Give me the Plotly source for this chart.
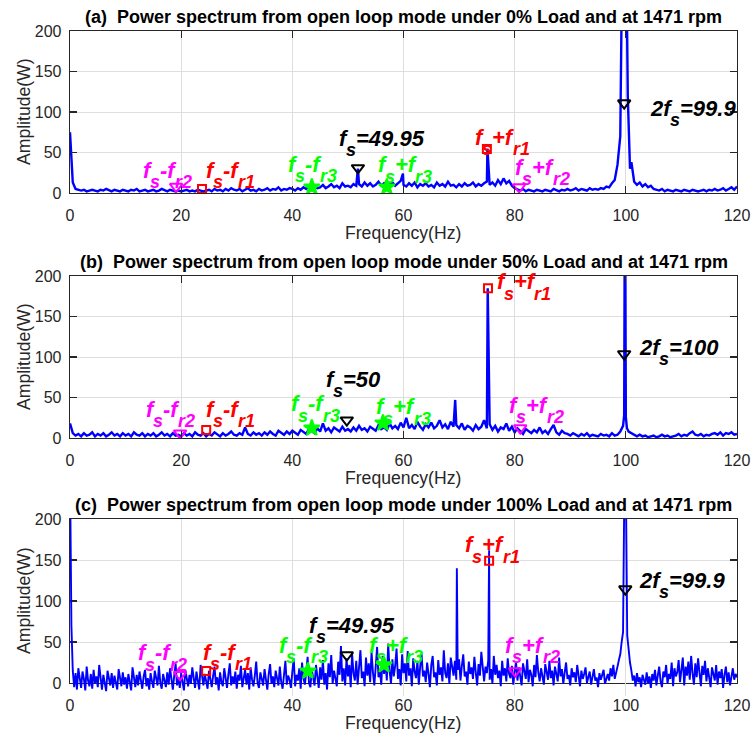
import numpy as np
import plotly.graph_objects as go

# ---------------- data ----------------
STEP_AB = 0.5    # Hz between samples, panels (a) and (b)
STEP_C = 0.25    # Hz between samples, panel (c)

amp_a = [
    75, 13, 5, 4, 3, 4, 2, 3, 4, 3,
    2, 4, 3, 5, 3, 2, 4, 3, 2, 4,
    3, 2, 4, 3, 5, 2, 3, 4, 2, 3,
    4, 2, 3, 5, 3, 2, 4, 3, 2, 3,
    2, 3, 4, 2, 3, 2, 4, 3, 2, 3,
    4, 2, 5, 3, 4, 2, 5, 3, 6, 4,
    3, 5, 2, 4, 6, 3, 4, 2, 5, 3,
    4, 6, 3, 5, 4, 7, 3, 5, 4, 6,
    5, 3, 6, 4, 7, 5, 8, 4, 9, 6,
    7, 10, 6, 8, 11, 7, 9, 6, 12, 8,
    9, 7, 11, 9, 11, 8, 13, 9, 12, 8,
    10, 14, 9, 12, 8, 11, 13, 9, 12, 15,
    10, 8, 12, 9, 13, 7, 11, 9, 12, 8,
    10, 7, 13, 9, 11, 8, 14, 9, 10, 7,
    11, 8, 12, 9, 10, 13, 8, 11, 9, 12,
    14, 10, 13, 9, 16, 11, 18, 12, 15, 9,
    6, 4, 3, 5, 2, 4, 3, 2, 4, 3,
    2, 4, 3, 2, 5, 3, 2, 4, 3, 5,
    3, 4, 6, 3, 5, 4, 3, 6, 4, 5,
    4, 6, 5, 8, 7, 12, 16, 35, 70, 250,
    250, 70, 38, 14, 10, 13, 8, 11, 7, 9,
    5, 4, 3, 5, 2, 4, 3, 2, 4, 3,
    2, 4, 3, 2, 4, 3, 2, 3, 4, 2,
    4, 3, 5, 3, 4, 6, 3, 5, 7, 4,
    8,
]
peak_f_a = [51.8, 59.9, 75.1, 99.2, 99.7, 99.85, 100.2, 100.35, 100.75, 101.2]
peak_v_a = [30, 24, 55, 200, 250, 250, 220, 120, 30, 25]

amp_b = [
    18, 6, 3, 5, 2, 6, 3, 4, 7, 2,
    5, 3, 6, 2, 4, 7, 3, 5, 2, 6,
    3, 5, 2, 7, 4, 3, 6, 2, 5, 3,
    6, 2, 4, 7, 3, 5, 2, 6, 3, 4,
    2, 6, 3, 5, 2, 7, 4, 3, 6, 2,
    5, 3, 7, 4, 2, 6, 3, 5, 8, 4,
    3, 6, 4, 13, 5, 3, 7, 4, 6, 3,
    7, 4, 8, 5, 3, 9, 6, 4, 8, 5,
    9, 6, 4, 10, 7, 5, 11, 8, 6, 12,
    8, 18, 9, 12, 7, 13, 10, 8, 14, 9,
    11, 8, 13, 9, 15, 10, 12, 8, 14, 11,
    9, 16, 11, 13, 10, 18, 12, 15, 11, 19,
    13, 25, 12, 16, 11, 20, 14, 10, 17, 13,
    19, 12, 15, 22, 13, 17, 11, 20, 14, 16,
    12, 18, 10, 15, 13, 9, 16, 11, 14, 22,
    12, 17, 10, 15, 8, 13, 11, 18, 9, 14,
    7, 12, 9, 5, 11, 8, 6, 10, 7, 13,
    6, 9, 5, 11, 16, 7, 4, 9, 6, 5,
    3, 6, 4, 2, 5, 3, 6, 2, 4, 3,
    2, 5, 3, 4, 2, 6, 3, 4, 8, 15,
    26, 8, 6, 3, 2, 4, 2, 3, 1, 2,
    3, 1, 2, 4, 2, 3, 1, 2, 3, 5,
    2, 4, 3, 6, 8, 4, 3, 5, 2, 4,
    3, 5, 6, 4, 7, 3, 6, 5, 7, 4,
    5,
]
peak_f_b = [69.3, 75.15, 99.7, 99.8, 99.9, 100.2]
peak_v_b = [47, 185, 28, 250, 250, 12]

amp_c = [
    260, 70, 15, -5, 12, -8, 18, 2, -6, 14, 5, -9, 20, 3, -4, 11, -7, 16, 0, 8,
    -5, 22, 4, -8, 10, 1, -10, 15, 6, -3, 12, -6, 9, 2, -8, 17, 5, -4, 13, -2,
    7, -7, 11, 3, -9, 19, 4, -5, 10, -3, 14, 1, -7, 8, 16, -4, 6, -8, 12, 2,
    -6, 15, 5, -3, 21, 0, -7, 11, 3, -5, 13, -2, 18, 4, -8, 9, 24, -3, 7, -6,
    12, 1, -9, 16, 5, -4, 10, -1, 19, 3, -6, 14, 0, -8, 22, 6, -3, 11, 2, -7,
    15, 4, -5, 9, 20, -2, 7, -9, 13, 1, -4, 18, 5, -6, 11, 24, -3, 8, -1, 14,
    -7, 10, 3, 21, -5, 7, 16, -2, 12, -8, 19, 4, -4, 9, 26, 0, -6, 13, 5, -3,
    17, 2, -8, 11, 23, -1, 8, -5, 15, 6, -3, 20, 1, -7, 12, 27, -2, 9, 4, -6,
    14, 30, -4, 10, 3, 18, -7, 25, 6, -2, 13, 32, 0, -5, 16, 8, -3, 22, 11, -6,
    19, 4, 28, -2, 12, -8, 24, 7, 34, -1, 15, 5, -4, 26, 10, 45, 2, 18, -3, 30,
    8, 22, -5, 36, 12, 3, 27, -2, 18, 40, 6, 14, -4, 31, 9, 24, 1, 38, 13, -3,
    20, 44, 7, 16, -2, 33, 11, 26, 3, 48, 15, -1, 29, 8, 21, 42, 5, 17, -3, 35,
    12, 24, 2, 39, 9, 18, -4, 30, 14, 6, 27, -2, 20, 36, 8, 15, 1, 25, 11, -5,
    22, 33, 7, 13, -3, 28, 10, 19, 2, 40, 12, 6, 24, -1, 31, 18, 9, 27, 4, 16,
    29, 3, 21, 35, 8, 14, -2, 26, 11, 19, 5, 32, 13, -3, 23, 9, 38, 15, 2, 20,
    12, 28, 4, 17, -1, 33, 10, 22, 6, 15, -4, 27, 9, 18, 2, 30, 11, 6, 21, -2,
    14, 25, 3, 19, 8, -3, 24, 12, 5, 29, 1, 16, 10, -4, 22, 7, 34, 13, 2, 18,
    9, -2, 23, 11, 4, 27, 6, 15, -3, 20, 12, 2, 31, 8, 17, -1, 13, 25, 5, 10,
    -3, 18, 7, 13, 1, 22, 9, -4, 15, 5, 11, 19, 0, 8, 14, -2, 10, 17, 3, 7,
    -5, 12, 4, 9, 16, -1, 6, 11, 3, 18, 8, 22, 5, 15, 20, 28, 35, 50, 62, 250,
    250, 58, 40, 25, 15, 3, 9, -4, 12, 1, 7, -5, 10, 4, -2, 13, 0, 8, -6, 11,
    3, 16, -3, 9, 20, 2, -5, 14, 7, 22, -1, 11, 5, 25, -4, 18, 8, 13, 28, 1,
    15, 31, -3, 20, 9, 26, 4, 33, 12, -2, 24, 7, 30, 16, -4, 21, 10, 27, 2, 18,
    8, -5, 19, 12, 3, 22, -2, 14, 6, 17, -6, 10, 20, 1, 13, -3, 9, 18, 4, 11,
    7,
]
peak_f_c = [69.6, 75.4]
peak_v_c = [140, 162]

# marked characteristic frequencies: (frequency, amplitude)
mark_kind = ["fs-fr2", "fs-fr1", "fs-fr3", "fs", "fs+fr3", "fs+fr1", "fs+fr2", "2fs"]
mark_f_a = [19.1, 23.75, 43.5, 51.8, 57.0, 75.0, 80.8, 99.7]
mark_v_a = [8, 5, 7.4, 31, 7.4, 54.3, 7.4, 111]
mark_f_b = [19.8, 24.5, 43.5, 49.8, 56.3, 75.2, 81.0, 99.7]
mark_v_b = [6, 9.9, 12.3, 22, 18.5, 185, 12.3, 103.7]
mark_f_c = [19.8, 24.5, 42.8, 49.8, 56.5, 75.4, 80.1, 99.9]
mark_v_c = [10, 14.6, 14.6, 34, 22, 149, 14.6, 114.6]

fs_text = ["49.95", "50", "49.95"]
twofs_text = ["99.9", "100", "99.9"]
titles = [
    "(a)  Power spectrum from open loop mode under 0% Load and at 1471 rpm",
    "(b)  Power spectrum from open loop mode under 50% Load and at 1471 rpm",
    "(c)  Power spectrum from open loop mode under 100% Load and at 1471 rpm",
]
x_ticks = [0, 20, 40, 60, 80, 100, 120]
y_ticks = [0, 50, 100, 150, 200]

# ---------------- layout constants ----------------
W, H = 752, 736
ML, MR = 70, 15
PW = W - ML - MR
FONT = "Liberation Sans, Arial, Helvetica, sans-serif"
AXC = "#262626"
# pixel rows of the panels (top = 200, bottom = 0)
panels_px = [(31, 193), (276, 438), (519, 683)]
YMIN_C = -16

def py2paper(py):
    return 1 - py / H

def px2paper(px):
    return (px - ML) / PW

# label text positions (left edge frequency, amplitude at text centre) per panel
label_pos = [
    [(12.95, 28.4), (24.3, 28.4), (39.0, 35.8), (48.2, 67.9), (55.2, 34.6), (72.7, 69.1), (79.9, 32.1), (104.2, 104.9)],
    [(13.5, 35.8), (24.3, 35.8), (39.6, 42.0), (45.9, 72.8), (54.9, 38.3), (76.6, 192.6), (78.8, 40.7), (102.2, 112.3)],
    [(12.05, 36.6), (23.75, 37.8), (37.4, 46.3), (42.8, 70.7), (53.6, 46.3), (70.9, 168.3), (78.1, 46.3), (102.2, 125.6)],
]

COL = {"m": "#FF00FF", "r": "#FF0000", "g": "#00FF00", "k": "#000000"}
kind_style = {
    "fs-fr2": ("triangle-down-open", "m"),
    "fs-fr1": ("square-open", "r"),
    "fs-fr3": ("star", "g"),
    "fs": ("triangle-down-open", "k"),
    "fs+fr3": ("star", "g"),
    "fs+fr1": ("square-open", "r"),
    "fs+fr2": ("triangle-down-open", "m"),
    "2fs": ("triangle-down-open", "k"),
}
marker_size = {"triangle-down-open": 11, "square-open": 8, "star": 12}

CW = {"f": 0.333, "s": 0.556, "r": 0.389, "-": 0.333, "+": 0.584, "=": 0.584, ".": 0.278}
def text_w(t, size):
    return sum(CW.get(c, 0.556) for c in t) * size

MAIN_FS, SUB_FS, SUB_DY = 22, 18, -12

def segments(kind, i):
    if kind == "fs":
        return [("f", 0), ("s", 1), ("=" + fs_text[i], 0)]
    if kind == "2fs":
        return [("2f", 0), ("s", 1), ("=" + twofs_text[i], 0)]
    sign = kind[2]
    return [("f", 0), ("s", 1), (sign + "f", 0), ("r" + kind[-1], 1)]

def merged(step, amps, pf, pv):
    f = [k * step for k in range(len(amps))]
    pts = sorted(zip(f + pf, amps + pv))
    return [p[0] for p in pts], [p[1] for p in pts]

fig = go.Figure()
annotations = []

# empty trace so that the frame of panel (c) (x3/y3) is created
fig.add_trace(go.Scatter(x=[None], y=[None], xaxis="x3", yaxis="y3", mode="lines",
                         showlegend=False, hoverinfo="skip"))

spectra = [
    merged(STEP_AB, amp_a, peak_f_a, peak_v_a),
    merged(STEP_AB, amp_b, peak_f_b, peak_v_b),
    merged(STEP_C, amp_c, peak_f_c, peak_v_c),
]
marks = [(mark_f_a, mark_v_a), (mark_f_b, mark_v_b), (mark_f_c, mark_v_c)]
axref = [("x", "y"), ("x2", "y2"), ("x3", "y4")]
lw = [2.4, 2.4, 1.9]

for i in range(3):
    xr, yr = axref[i]
    fx, fv = spectra[i]
    fig.add_trace(go.Scatter(x=fx, y=fv, mode="lines", xaxis=xr, yaxis=yr,
                             line=dict(color="#0000FF", width=lw[i]),
                             showlegend=False, hoverinfo="skip"))
    mf, mv = marks[i]
    for k, kind in enumerate(mark_kind):
        sym, c = kind_style[kind]
        col = COL[c]
        fig.add_trace(go.Scatter(
            x=[mf[k]], y=[mv[k]], mode="markers", xaxis=xr, yaxis=yr,
            marker=dict(symbol=sym, size=marker_size[sym], color=col,
                        line=dict(color=col, width=2)),
            showlegend=False, hoverinfo="skip"))
        lx, ly = label_pos[i][k]
        shift = 0.0
        for txt, sub in segments(kind, i):
            fsz = SUB_FS if sub else MAIN_FS
            annotations.append(dict(
                x=lx, y=ly, xref=xr, yref=yr, text=txt, showarrow=False,
                xanchor="left", yanchor="middle", xshift=shift,
                yshift=SUB_DY if sub else 0, borderpad=0,
                font=dict(family=FONT, size=fsz, color=col, weight="bold", style="italic")))
            shift += text_w(txt, fsz)

    top, bot = panels_px[i]
    annotations.append(dict(x=0.5, y=py2paper(top - 14), xref="paper", yref="paper",
                            text=titles[i], showarrow=False, xanchor="center", yanchor="middle",
                            font=dict(family=FONT, size=18, color="#000000", weight="bold")))
    annotations.append(dict(x=px2paper(24), y=py2paper((top + bot) / 2), xref="paper", yref="paper",
                            text="Amplitude(W)", showarrow=False, textangle=-90,
                            xanchor="center", yanchor="middle",
                            font=dict(family=FONT, size=17.6, color=AXC)))
    annotations.append(dict(x=px2paper(403), y=py2paper(bot + 40), xref="paper", yref="paper",
                            text="Frequency(Hz)", showarrow=False, xanchor="center", yanchor="middle",
                            font=dict(family=FONT, size=17.6, color=AXC)))

common = dict(showline=True, linecolor=AXC, linewidth=1.3, mirror="ticks", ticks="inside",
              ticklen=7, tickwidth=1.3, tickcolor=AXC, showgrid=True, gridcolor="#dedede",
              gridwidth=1, zeroline=False, fixedrange=True, automargin=False,
              ticklabeloverflow="allow",
              tickfont=dict(family=FONT, size=16, color=AXC))

layout = dict(template="none", width=W, height=H, margin=dict(l=ML, r=MR, t=0, b=0, pad=0),
              paper_bgcolor="white", plot_bgcolor="rgba(0,0,0,0)",
              annotations=annotations, showlegend=False)
names = ["", "2", "3"]
for i, n in enumerate(names):
    top, bot = panels_px[i]
    layout["xaxis" + n] = dict(common, domain=[0, 1], range=[0, 120], tickvals=x_ticks,
                               anchor="y" + n, ticklabelstandoff=7)
    layout["yaxis" + n] = dict(common, domain=[py2paper(bot), py2paper(top)], range=[0, 200],
                               tickvals=y_ticks, anchor="x" + n, ticklabelstandoff=4)
top, bot = panels_px[2]
ext = bot + (-YMIN_C) * (bot - top) / 200
layout["yaxis4"] = dict(domain=[py2paper(ext), py2paper(top)], range=[YMIN_C, 200],
                        visible=False, anchor="x3", fixedrange=True)

fig.update_layout(**layout)
fig.write_html("out.html", config={"displayModeBar": False, "staticPlot": True},
               post_script="document.body.style.margin='0';document.body.style.overflow='hidden';")
